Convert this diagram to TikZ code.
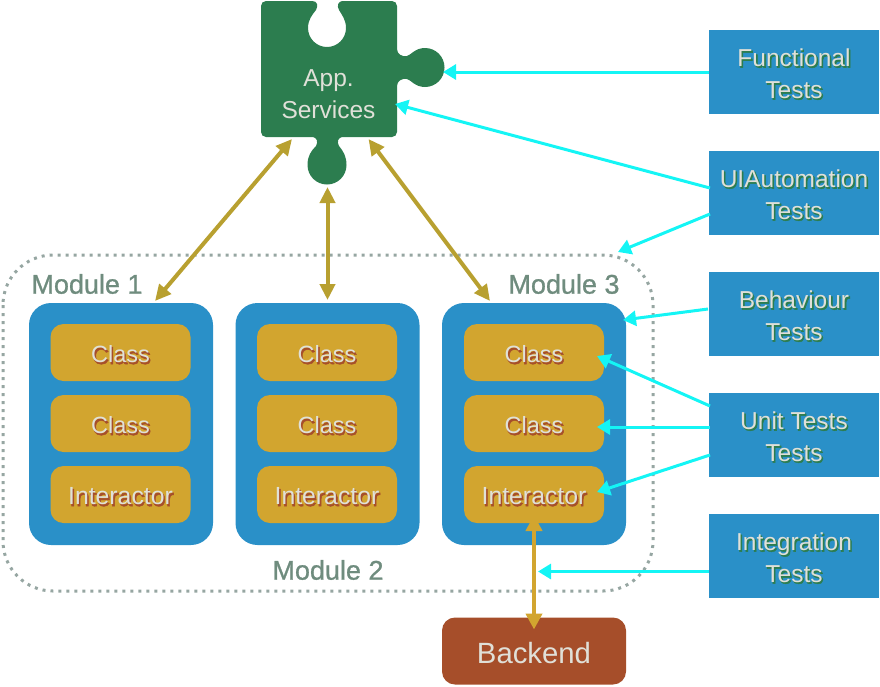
\documentclass[tikz,border=0pt]{standalone}
\usepackage{fontspec}
\setmainfont{Liberation Sans}
\newfontfamily\shfont{Liberation Sans}[FakeBold=1.8]
\newfontfamily\modfont{Liberation Sans}[FakeBold=0.9]
\usetikzlibrary{arrows.meta}
\definecolor{blu}{HTML}{2A90C8}
\definecolor{gold}{HTML}{D2A52F}
\definecolor{grn}{HTML}{2C7D4F}
\definecolor{rust}{HTML}{A64E2A}
\definecolor{cyn}{HTML}{14F5F5}
\definecolor{txt}{HTML}{E0E0D8}
\definecolor{modg}{HTML}{6F8C7E}
\definecolor{dots}{HTML}{96A6A2}
\definecolor{goldgrn}{HTML}{B8A030}
\newcommand{\shd}[2]{\makebox[0pt][l]{\kern1.2pt\raisebox{-1.6pt}{\shfont\textcolor{#1}{#2}}}#2}
\tikzset{
  x=1pt,y=-1pt,
  every node/.style={inner sep=0pt,outer sep=0pt,align=center},
  modbox/.style={fill=blu,rounded corners=22pt,minimum width=184pt,minimum height=242pt},
  clsbox/.style={fill=gold,rounded corners=13pt,minimum width=140pt,minimum height=57pt,font=\fontsize{23.5}{26}\selectfont,text=txt,text height=20pt,text depth=0pt},
  intbox/.style={clsbox,font=\fontsize{24.8}{26}\selectfont},
  testbox/.style={fill=blu,minimum width=170pt,minimum height=84pt,font=\fontsize{24.5}{32}\selectfont,text=txt,text height=52pt,text depth=0pt},
  modlabel/.style={font=\modfont\fontsize{27}{30}\selectfont,text=modg},
  cyarrow/.style={cyn,line width=3pt,-{Triangle[length=13pt,width=15pt]}},
  greenarrow/.style={goldgrn,line width=4pt,{Triangle[length=16pt,width=15pt]}-{Triangle[length=16pt,width=15pt]}},
  goldarrow/.style={gold,line width=4pt,{Triangle[length=16pt,width=16pt]}-{Triangle[length=16pt,width=16pt]}},
}
\begin{document}
\begin{tikzpicture}
\useasboundingbox (0,0) rectangle (880,686);
% dotted module boundary
\draw[dots,line width=3pt,dash pattern=on 3pt off 5pt,rounded corners=50pt] (3,255) rectangle (653,591);
% puzzle piece
\fill[grn] (266,1) -- (312,1)
  .. controls (318,1) and (318,6) .. (316,10)
  .. controls (312,15) and (308,20) .. (308,28)
  .. controls (308,38.5) and (316.5,47) .. (327,47)
  .. controls (337.5,47) and (346,38.5) .. (346,28)
  .. controls (346,20) and (342,15) .. (339,10)
  .. controls (337,6) and (337,1) .. (344,1)
  -- (392,1) .. controls (394.8,1) and (397,3.2) .. (397,6)
  -- (397,49)
  .. controls (397,54) and (402,57) .. (407,56)
  .. controls (411,55) and (415,48) .. (425,48)
  .. controls (435.8,48) and (444.5,56.7) .. (444.5,67.5)
  .. controls (444.5,78.3) and (435.8,87) .. (425,87)
  .. controls (415,87) and (411,80) .. (407,79)
  .. controls (402,78) and (397,81) .. (397,86)
  -- (397,132) .. controls (397,134.8) and (394.8,137) .. (392,137)
  -- (344,137)
  .. controls (337,137) and (337,142) .. (339,146)
  .. controls (343,151) and (346.5,156) .. (346.5,165)
  .. controls (346.5,175.8) and (337.8,184.5) .. (327,184.5)
  .. controls (316.2,184.5) and (307.5,175.8) .. (307.5,165)
  .. controls (307.5,156) and (311,151) .. (316,146)
  .. controls (318,142) and (318,137) .. (311,137)
  -- (266,137) .. controls (263.2,137) and (261,134.8) .. (261,132)
  -- (261,6) .. controls (261,3.2) and (263.2,1) .. (266,1) -- cycle;
\node[text=txt,font=\fontsize{24.5}{32}\selectfont] (app) at (328.5,94.5) {App.\\Services};
% module boxes
\node[modbox] (m1) at (121,424) {};
\node[modbox] (m2) at (327.5,424) {};
\node[modbox] (m3) at (534,424) {};
\node[clsbox] (c11) at (120.5,352.5) {\shd{rust}{Class}};
\node[clsbox] (c12) at (120.5,423.5) {\shd{rust}{Class}};
\node[intbox] (c13) at (120.5,494.5) {\shd{rust}{Interactor}};
\node[clsbox] (c21) at (327,352.5) {\shd{rust}{Class}};
\node[clsbox] (c22) at (327,423.5) {\shd{rust}{Class}};
\node[intbox] (c23) at (327,494.5) {\shd{rust}{Interactor}};
\node[clsbox] (c31) at (534,352.5) {\shd{rust}{Class}};
\node[clsbox] (c32) at (534,423.5) {\shd{rust}{Class}};
\node[intbox] (c33) at (534,494.5) {\shd{rust}{Interactor}};
\node[modlabel] (l1) at (87,284) {Module 1};
\node[modlabel] (l2) at (328,570) {Module 2};
\node[modlabel] (l3) at (564,284) {Module 3};
% backend
\node[fill=rust,rounded corners=13pt,minimum width=184pt,minimum height=67pt,text=txt,font=\fontsize{29.3}{32}\selectfont,text height=25.5pt,text depth=0pt] (be) at (534,651) {Backend};
% tests
\node[testbox] (t1) at (794,72) {\shd{grn}{Functional}\\\shd{grn}{Tests}};
\node[testbox] (t2) at (794,193) {\shd{grn}{UIAutomation}\\\shd{grn}{Tests}};
\node[testbox] (t3) at (794,314) {\shd{grn}{Behaviour}\\\shd{grn}{Tests}};
\node[testbox] (t4) at (794,435) {\shd{grn}{Unit Tests}\\\shd{grn}{Tests}};
\node[testbox] (t5) at (794,556) {\shd{grn}{Integration}\\\shd{grn}{Tests}};
% free ends
\coordinate (a1) at (292,139);
\coordinate (a2) at (327.5,187);
\coordinate (a3) at (368.5,139);
\coordinate (b1) at (155,301);
\coordinate (b2) at (327.5,300);
\coordinate (b3) at (490,301);
\coordinate (s1) at (709,72);
\coordinate (s2) at (710,188);
\coordinate (s3) at (710,214);
\coordinate (s4) at (708,309);
\coordinate (s5) at (710,406);
\coordinate (s6) at (710,427);
\coordinate (s7) at (710,455);
\coordinate (s8) at (709,571.5);
\coordinate (d1) at (443,72);
\coordinate (d2) at (395,104);
\coordinate (d3) at (618,252);
\coordinate (d4) at (623,320);
\coordinate (d5) at (597,356);
\coordinate (d6) at (597,427);
\coordinate (d7) at (597,492);
\coordinate (d8) at (538,571.5);
% connectors
\draw[greenarrow] (a1) -- (b1);
\draw[greenarrow] (a2) -- (b2);
\draw[greenarrow] (a3) -- (b3);
\draw[goldarrow,shorten <=-8pt,shorten >=-12pt] (c33.south) -- (be.north);
\draw[cyarrow] (s1) -- (d1);
\draw[cyarrow] (s2) -- (d2);
\draw[cyarrow] (s3) -- (d3);
\draw[cyarrow] (s4) -- (d4);
\draw[cyarrow] (s5) -- (d5);
\draw[cyarrow] (s6) -- (d6);
\draw[cyarrow] (s7) -- (d7);
\draw[cyarrow] (s8) -- (d8);
\end{tikzpicture}
\end{document}
